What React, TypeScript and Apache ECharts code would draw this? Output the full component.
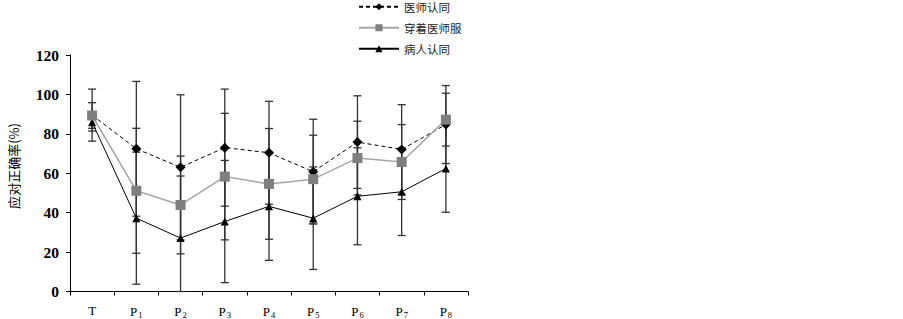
import React, { useEffect, useRef } from "react";
import * as echarts from "echarts";

const categories = ["T", "P1", "P2", "P3", "P4", "P5", "P6", "P7", "P8"];
const yTicks = [0, 20, 40, 60, 80, 100, 120];
const seriesNames = ["医师认同", "穿着医师服", "病人认同"];
const yAxisTitle = "应对正确率(%)";

const doctorMean = [89.5, 72.4, 63.0, 73.0, 70.4, 60.8, 75.8, 72.1, 84.7];
const doctorErr = [13.2, 34.2, 36.8, 29.7, 26.1, 26.6, 23.5, 22.7, 19.8];
const coatMean = [89.3, 51.1, 43.9, 58.3, 54.6, 57.0, 67.7, 65.7, 87.2];
const coatErr = [6.5, 31.7, 24.8, 32.1, 28.1, 22.3, 18.7, 19.0, 13.4];
const patientMean = [85.9, 37.2, 27.1, 35.5, 43.2, 37.2, 48.3, 50.6, 62.4];
const patientErr = [4.5, 33.5, 31.5, 31.0, 27.4, 26.0, 24.6, 22.2, 22.2];

function errData(mean: number[], err: number[]) {
  return mean.map((m, i) => [i, Math.max(0, m - err[i]), m + err[i]]);
}

const renderErr = (params: any, api: any) => {
  const x = api.value(0);
  const lo = api.coord([x, api.value(1)]);
  const hi = api.coord([x, api.value(2)]);
  const hw = 4;
  const style = { stroke: "#333", lineWidth: 1.3 };
  return {
    type: "group",
    children: [
      { type: "line", shape: { x1: lo[0], y1: lo[1], x2: hi[0], y2: hi[1] }, style },
      { type: "line", shape: { x1: hi[0] - hw, y1: hi[1], x2: hi[0] + hw, y2: hi[1] }, style },
      { type: "line", shape: { x1: lo[0] - hw, y1: lo[1], x2: lo[0] + hw, y2: lo[1] }, style },
    ],
  };
};

export default function App() {
  const ref = useRef<HTMLDivElement>(null);
  useEffect(() => {
    if (!ref.current) return;
    const chart = echarts.init(ref.current, null, { renderer: "svg" });
    const serif = "'Liberation Serif', 'Noto Sans CJK SC', serif";
    chart.setOption({
      animation: false,
      backgroundColor: "#fff",
      legend: {
        orient: "vertical",
        left: 358,
        top: 1,
        padding: 0,
        itemWidth: 40,
        itemHeight: 9,
        itemGap: 9.5,
        data: seriesNames,
        textStyle: { fontFamily: "'Noto Sans CJK SC', serif", fontSize: 11.5, color: "#222" },
      },
      graphic: [
        {
          type: "text",
          x: 13,
          y: 166,
          rotation: Math.PI / 2,
          style: {
            text: yAxisTitle,
            fontFamily: "'Noto Sans CJK SC', serif",
            fontSize: 13,
            fill: "#000",
            align: "center",
            verticalAlign: "middle",
          },
        },
      ],
      grid: { left: 70, right: 435, top: 55, bottom: 26, containLabel: false },
      xAxis: {
        type: "category",
        data: categories,
        boundaryGap: true,
        axisLine: { lineStyle: { color: "#000", width: 1 } },
        axisTick: { show: true, length: 4, inside: false, lineStyle: { color: "#000" } },
        axisLabel: {
          interval: 0,
          margin: 12,
          color: "#000",
          fontFamily: serif,
          fontSize: 12,
          formatter: (v: string) => (v.length > 1 ? `{p|${v[0]}}{s|${v.slice(1)}}` : `{p|${v}}`),
          rich: {
            p: { fontFamily: serif, fontSize: 13, color: "#000" },
            s: { fontFamily: serif, fontSize: 8.5, color: "#000", verticalAlign: "bottom", padding: [7, 0, 0, 1] },
          },
        },
      },
      yAxis: {
        type: "value",
        min: 0,
        max: 120,
        interval: 20,
        axisLine: { show: true, lineStyle: { color: "#000", width: 1 } },
        axisTick: { show: true, length: 4, lineStyle: { color: "#000" } },
        splitLine: { show: false },
        axisLabel: {
          margin: 11,
          color: "#000",
          fontFamily: serif,
          fontSize: 15.5,
          fontWeight: "bold",
          formatter: (v: number) => (yTicks.includes(v) ? String(v) : ""),
        },
      },
      series: [
        { type: "custom", name: "err1", renderItem: renderErr, data: errData(doctorMean, doctorErr), z: 1, silent: true },
        { type: "custom", name: "err2", renderItem: renderErr, data: errData(coatMean, coatErr), z: 1, silent: true },
        { type: "custom", name: "err3", renderItem: renderErr, data: errData(patientMean, patientErr), z: 1, silent: true },
        {
          type: "line",
          name: seriesNames[0],
          data: doctorMean,
          symbol: "diamond",
          symbolSize: 10,
          itemStyle: { color: "#000" },
          lineStyle: { color: "#000", width: 1, type: [4, 3] },
          z: 3,
        },
        {
          type: "line",
          name: seriesNames[1],
          data: coatMean,
          symbol: "rect",
          symbolSize: 10,
          itemStyle: { color: "#7f7f7f" },
          lineStyle: { color: "#a6a6a6", width: 1.5 },
          z: 4,
        },
        {
          type: "line",
          name: seriesNames[2],
          data: patientMean,
          symbol: "triangle",
          symbolSize: 8,
          itemStyle: { color: "#000" },
          lineStyle: { color: "#000", width: 1 },
          z: 3,
        },
      ],
    });
    return () => chart.dispose();
  }, []);
  return <div ref={ref} style={{ position: "fixed", left: 0, top: 0, width: 903, height: 319 }} />;
}
